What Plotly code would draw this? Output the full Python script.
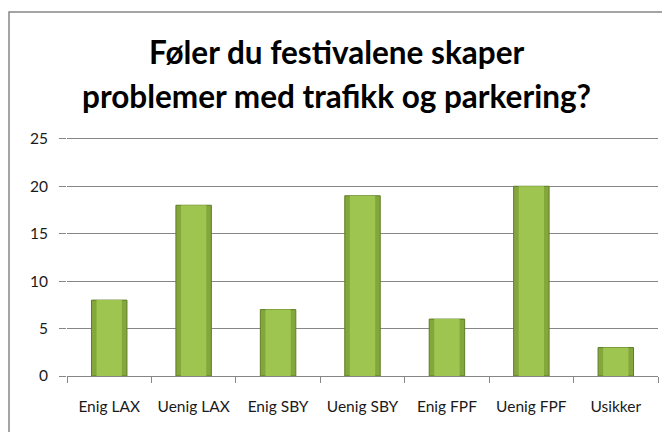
import plotly.graph_objects as go

# data
categories = ["Enig LAX", "Uenig LAX", "Enig SBY", "Uenig SBY", "Enig FPF", "Uenig FPF", "Usikker"]
answers = [8, 18, 7, 19, 6, 20, 3]
y_ticks = [0, 5, 10, 15, 20, 25]

title_lines = ["Føler du festivalene skaper", "problemer med trafikk og parkering?"]

# the page body has an 8px margin, so the figure is drawn 8px smaller
OFF = 8
W, H = 670 - OFF, 432 - OFF
L, R, T, B = 67 - OFF, 12, 136 - OFF, 56
pw, ph = W - L - R, H - T - B


def px_x(p):
    # reference pixel -> paper coordinate
    return (p - OFF - L) / pw


def px_y(p):
    return (H - B - (p - OFF)) / ph


fig = go.Figure()

# base bar with darker outline
fig.add_trace(go.Bar(
    x=categories, y=answers, width=0.42,
    marker=dict(color="#84A73B", line=dict(color="#5F7D27", width=1)),
    hoverinfo="x+y", showlegend=False,
))
# lighter centre to fake the bevel
fig.add_trace(go.Bar(
    x=categories, y=answers, width=0.30,
    marker=dict(color="#9EC550", line=dict(width=0)),
    hoverinfo="skip", showlegend=False,
))

title_ann = [
    dict(text=t, x=px_x(336), xref="paper", xanchor="center",
         y=px_y(py), yref="paper", yanchor="middle", showarrow=False,
         font=dict(family="Lato", size=31.5, color="black", weight="bold"))
    for t, py in zip(title_lines, [52, 96])
]

fig.update_layout(
    width=W, height=H,
    margin=dict(l=L, r=R, t=T, b=B),
    paper_bgcolor="white", plot_bgcolor="white",
    barmode="overlay",
    font=dict(family="Lato", size=15.5, color="#1a1a1a"),
    annotations=title_ann,
    xaxis=dict(
        type="category", tickson="boundaries", ticks="outside", ticklen=6,
        tickcolor="#868686", showline=True, linecolor="#868686", linewidth=1,
        showgrid=False, ticklabelstandoff=16, fixedrange=True,
    ),
    yaxis=dict(
        # a bit above 25 so the top gridline is not dropped at the edge
        range=[0, 25.3], tickvals=y_ticks, ticks="outside", ticklen=7,
        tickcolor="#868686", showline=False, showgrid=True,
        gridcolor="#868686", gridwidth=1, zeroline=False,
        ticklabelstandoff=8, fixedrange=True,
    ),
    shapes=[dict(
        type="rect", xref="paper", yref="paper",
        x0=px_x(9), x1=px_x(665), y0=px_y(445), y1=px_y(12),
        line=dict(color="#868686", width=1.5), fillcolor="rgba(0,0,0,0)",
        layer="below",
    )],
)

fig.write_html("out.html")
